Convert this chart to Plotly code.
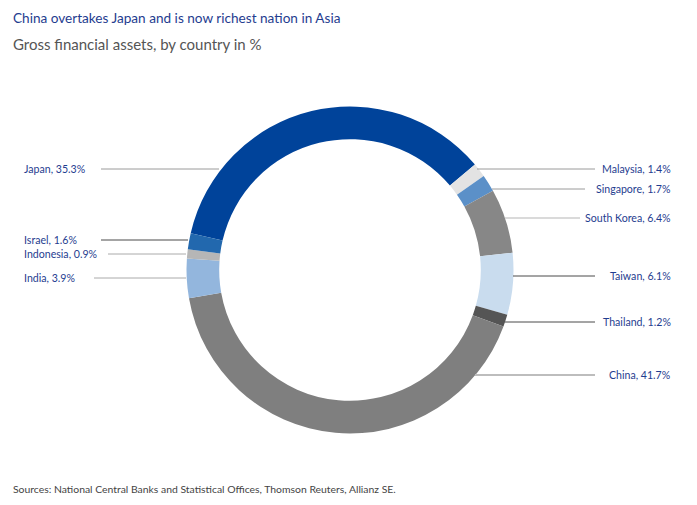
import plotly.graph_objects as go

countries = ["Japan", "Malaysia", "Singapore", "South Korea", "Taiwan", "Thailand",
             "China", "India", "Indonesia", "Israel"]
shares = [35.3, 1.4, 1.7, 6.4, 6.1, 1.2, 41.7, 3.9, 0.9, 1.6]
colors = ["#00439a", "#e3e3e3", "#5b90c8", "#878787", "#c9dcee", "#555555",
          "#7f7f7f", "#93b6dd", "#b6b6b6", "#2268ae"]

W, H = 697, 505
cx, cy, R = 350, 270, 163.5

fig = go.Figure(go.Pie(
    labels=countries, values=shares, sort=False, direction="clockwise",
    rotation=-77, hole=0.80, marker=dict(colors=colors, line=dict(width=0)),
    textinfo="none", hoverinfo="label+percent", showlegend=False,
    domain=dict(x=[(cx - R) / W, (cx + R) / W], y=[(H - cy - R) / H, (H - cy + R) / H]),
))

# label placement: (side, y_px, line_x0, line_x1, line_color, line_width)
label_pos = {
    "Japan":       ("L", 169, 101, 219, "#9a9a9a", 1),
    "Israel":      ("L", 240, 101, 188, "#4a4a4a", 1),
    "Indonesia":   ("L", 254, 108, 186, "#aaaaaa", 1),
    "India":       ("L", 278, 94, 186, "#aaaaaa", 1),
    "Malaysia":    ("R", 169, 477, 595, "#9a9a9a", 1),
    "Singapore":   ("R", 189, 492, 585, "#9a9a9a", 1),
    "South Korea": ("R", 218, 505, 580, "#b5b5b5", 1),
    "Taiwan":      ("R", 276, 513, 595, "#4a4a4a", 1),
    "Thailand":    ("R", 322, 505, 595, "#4a4a4a", 1),
    "China":       ("R", 375, 475, 595, "#bdbdbd", 2),
}

label_font = dict(family="Lato, Open Sans, sans-serif", size=10.6, color="#1f3d8f")
for name, val in zip(countries, shares):
    side, y, x0, x1, lc, lw = label_pos[name]
    fig.add_shape(type="line", xref="paper", yref="paper",
                  x0=x0 / W, x1=x1 / W, y0=1 - y / H, y1=1 - y / H,
                  line=dict(color=lc, width=lw))
    if side == "L":
        fig.add_annotation(text=f"{name}, {val}%", xref="paper", yref="paper",
                           x=22 / W, y=1 - y / H, xanchor="left", yanchor="middle",
                           showarrow=False, font=label_font)
    else:
        fig.add_annotation(text=f"{name}, {val}%", xref="paper", yref="paper",
                           x=673 / W, y=1 - y / H, xanchor="right", yanchor="middle",
                           showarrow=False, font=label_font)

fig.add_annotation(text="China overtakes Japan and is now richest nation in Asia",
                   xref="paper", yref="paper", x=11 / W, y=1 - 18 / H,
                   xanchor="left", yanchor="middle", showarrow=False,
                   font=dict(family="Lato, Open Sans, sans-serif", size=13.6, color="#1f3d8f"))
fig.add_annotation(text="Gross financial assets, by country in %",
                   xref="paper", yref="paper", x=11 / W, y=1 - 44 / H,
                   xanchor="left", yanchor="middle", showarrow=False,
                   font=dict(family="Lato, Open Sans, sans-serif", size=15, color="#555555"))
fig.add_annotation(text="Sources: National Central Banks and Statistical Offices, Thomson Reuters, Allianz SE.",
                   xref="paper", yref="paper", x=11 / W, y=1 - 489 / H,
                   xanchor="left", yanchor="middle", showarrow=False,
                   font=dict(family="Lato, Open Sans, sans-serif", size=10.4, color="#444444"))

fig.update_layout(width=W, height=H, margin=dict(l=0, r=0, t=0, b=0),
                  paper_bgcolor="white", plot_bgcolor="white")
fig.write_html("out.html")
